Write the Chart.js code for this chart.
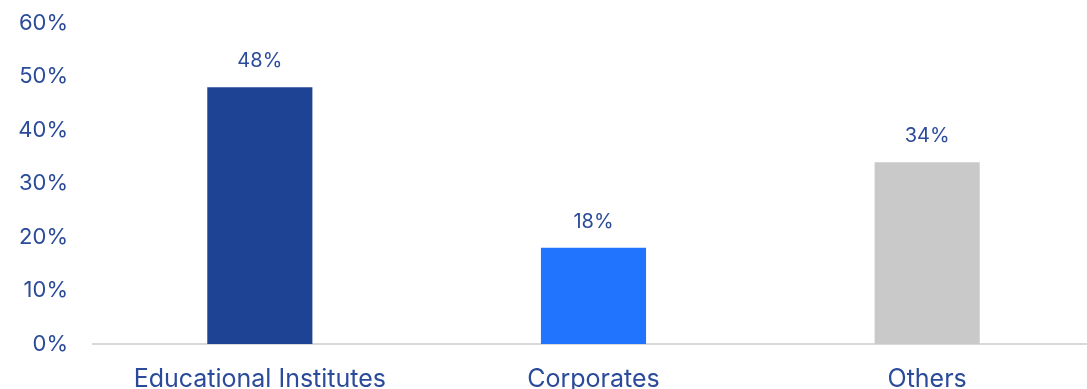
<!DOCTYPE html>
<html>
<head>
<meta charset="utf-8">
<script src="https://cdn.jsdelivr.net/npm/chart.js@4"></script>
<style>
    html, body { margin: 0; padding: 0; background: #fff; overflow: hidden; }
    #wrap { width: 1094px; height: 416px; position: relative; margin-top: -15px; }
</style>
</head>
<body>
<div id="wrap"><canvas id="shareChart"></canvas></div>
<script>
const categories = ['Educational Institutes', 'Corporates', 'Others'];
const shares = [48, 18, 34];
const barColors = ['#1F4394', '#2174FD', '#C9C9C9'];
const yTicks = [0, 10, 20, 30, 40, 50, 60];

const textBlue = '#2A4A9A';
const fontFamily = 'Inter, "Open Sans", sans-serif';

// value labels above each bar
const valueLabels = {
    id: 'valueLabels',
    afterDatasetsDraw(chart) {
        const ctx = chart.ctx;
        const meta = chart.getDatasetMeta(0);
        ctx.save();
        ctx.font = '20px ' + fontFamily;
        ctx.fillStyle = textBlue;
        ctx.textAlign = 'center';
        ctx.textBaseline = 'middle';
        meta.data.forEach((bar, i) => {
            ctx.fillText(shares[i] + '%', bar.x, bar.y - 26);
        });
        ctx.restore();
    }
};

new Chart(document.getElementById('shareChart'), {
    type: 'bar',
    data: {
        labels: categories,
        datasets: [{
            data: shares,
            backgroundColor: barColors,
            barPercentage: 0.315,
            categoryPercentage: 1
        }]
    },
    options: {
        responsive: true,
        maintainAspectRatio: false,
        animation: false,
        layout: { padding: 0 },
        plugins: {
            legend: { display: false },
            tooltip: { enabled: false }
        },
        scales: {
            y: {
                min: 0,
                max: 60,
                afterFit(scale) { scale.width = 93; },
                afterBuildTicks(scale) { scale.ticks = yTicks.map(v => ({ value: v })); },
                grid: { display: false, drawTicks: false },
                border: { display: false },
                ticks: {
                    padding: 25,
                    color: textBlue,
                    font: { family: fontFamily, size: 22 },
                    callback: v => v + '%'
                }
            },
            x: {
                afterFit(scale) { scale.height = 57; },
                grid: { display: false, drawTicks: false },
                border: { display: true, color: '#D9D9D9', width: 2 },
                ticks: {
                    padding: 20,
                    color: textBlue,
                    font: { family: fontFamily, size: 25 }
                }
            }
        }
    },
    plugins: [valueLabels]
});
</script>
</body>
</html>
